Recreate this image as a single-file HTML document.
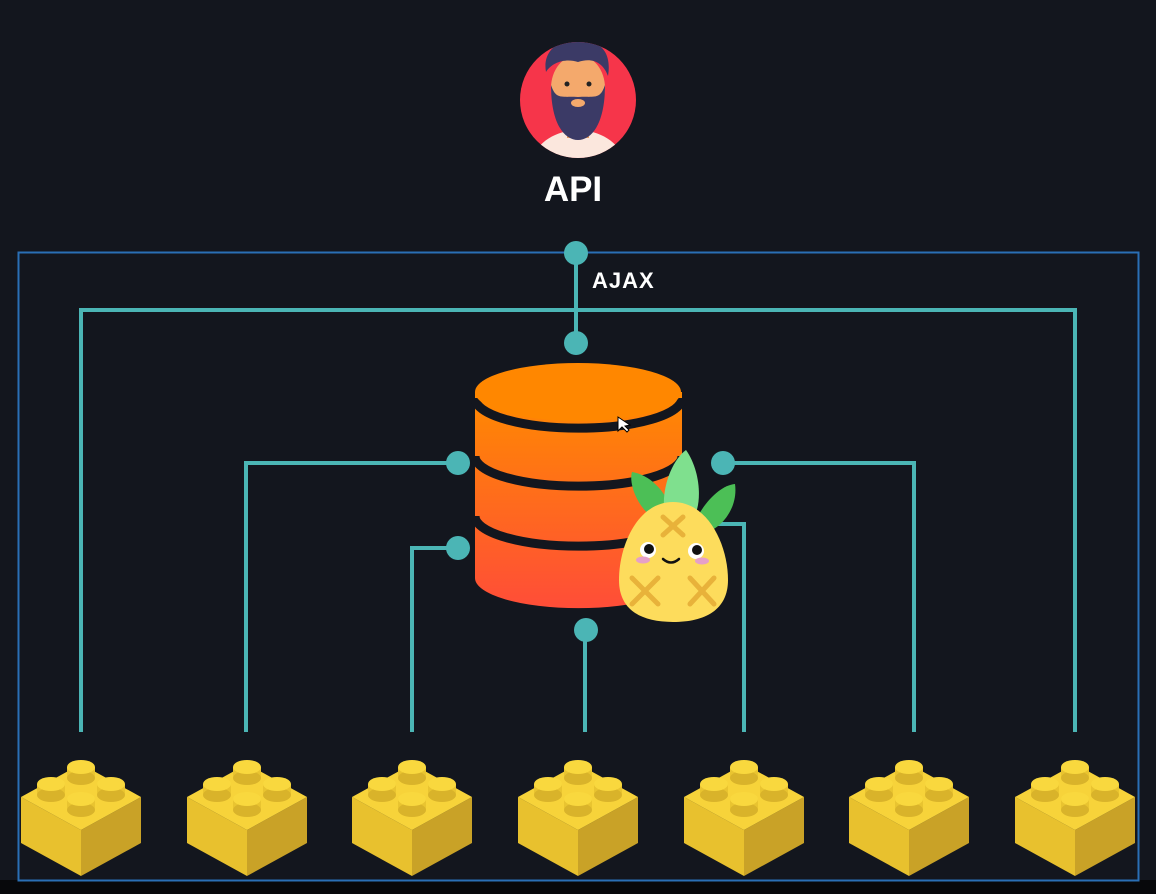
<!DOCTYPE html>
<html><head><meta charset="utf-8"><style>
html,body{margin:0;padding:0;background:#13161e;}
svg{display:block;}
</style></head><body>
<svg width="1156" height="894" viewBox="0 0 1156 894" xmlns="http://www.w3.org/2000/svg">
<defs>
<linearGradient id="db" x1="0" y1="0" x2="0" y2="1">
<stop offset="0" stop-color="#ff8a00"/><stop offset="1" stop-color="#ff4d38"/>
</linearGradient>
<clipPath id="av"><circle cx="578" cy="100" r="58"/></clipPath>
<g id="brick">
<polygon points="-60,797 0,830 0,876 -60,843" fill="#e8c12e"/>
<polygon points="60,797 0,830 0,876 60,843" fill="#c9a227"/>
<polygon points="-60,797 0,764 60,797 0,830" fill="#f7d33a"/>
<g fill="#e9c430">
<rect x="-14" y="767" width="28" height="11"/><ellipse cx="0" cy="778" rx="14" ry="7" fill="#d9b32a"/><ellipse cx="0" cy="767" rx="14" ry="7" fill="#f9d83e"/>
<rect x="-44" y="784" width="28" height="11"/><ellipse cx="-30" cy="795" rx="14" ry="7" fill="#d9b32a"/><ellipse cx="-30" cy="784" rx="14" ry="7" fill="#f9d83e"/>
<rect x="16" y="784" width="28" height="11"/><ellipse cx="30" cy="795" rx="14" ry="7" fill="#d9b32a"/><ellipse cx="30" cy="784" rx="14" ry="7" fill="#f9d83e"/>
<rect x="-14" y="799" width="28" height="11"/><ellipse cx="0" cy="810" rx="14" ry="7" fill="#d9b32a"/><ellipse cx="0" cy="799" rx="14" ry="7" fill="#f9d83e"/>
</g>
</g>
</defs>
<rect x="0" y="880" width="1156" height="14" fill="#07080b"/>
<rect x="18.5" y="252.5" width="1120" height="628" fill="none" stroke="#2a6fb5" stroke-width="2"/>

<g stroke="#4bb5b5" stroke-width="4" fill="none">
<polyline points="81,732 81,310 1075,310 1075,732"/>
<line x1="576" y1="253" x2="576" y2="343"/>
<polyline points="458,463 246,463 246,732"/>
<polyline points="458,548 412,548 412,732"/>
<line x1="585" y1="630" x2="585" y2="732"/>
<polyline points="723,463 914,463 914,732"/>
<polyline points="700,524 744,524 744,732"/>
</g>
<g fill="#4bb5b5">
<circle cx="576" cy="253" r="12"/><circle cx="576" cy="343" r="12"/>
<circle cx="458" cy="463" r="12"/><circle cx="458" cy="548" r="12"/>
<circle cx="586" cy="630" r="12"/><circle cx="723" cy="463" r="12"/>
</g>
<text x="592" y="288" font-family="Liberation Sans, sans-serif" font-weight="bold" font-size="22" letter-spacing="1" fill="#fff">AJAX</text>

<!-- database -->
<path d="M475,392 L475,578 A103,30 0 0 0 682,578 L682,392 Z" fill="url(#db)"/>
<path d="M475,398 A103,30 0 0 0 682,398" fill="none" stroke="#13161e" stroke-width="9"/>
<path d="M475,456 A103,30 0 0 0 682,456" fill="none" stroke="#13161e" stroke-width="9"/>
<path d="M475,516 A103,30 0 0 0 682,516" fill="none" stroke="#13161e" stroke-width="9"/>
<ellipse cx="578" cy="392" rx="103" ry="29" fill="#ff8700"/>

<!-- pineapple -->
<path d="M662,522 C640,515 628,485 632,472 C652,475 668,495 672,512 Z" fill="#4cbf56"/>
<path d="M695,522 C705,500 722,485 735,484 C738,505 725,525 708,532 Z" fill="#4cbf56"/>
<path d="M665,515 C660,490 672,460 686,450 C700,470 702,500 695,515 Z" fill="#7fe08e"/>
<path d="M673,502 C708,502 728,545 728,580 C728,610 705,622 673,622 C641,622 619,610 619,580 C619,545 638,502 673,502 Z" fill="#fddc5c"/>
<g stroke="#e8b23a" stroke-width="5" stroke-linecap="round">
<line x1="663" y1="517" x2="683" y2="535"/><line x1="683" y1="517" x2="663" y2="535"/>
<line x1="632" y1="578" x2="658" y2="604"/><line x1="658" y1="578" x2="632" y2="604"/>
<line x1="690" y1="578" x2="714" y2="604"/><line x1="714" y1="578" x2="690" y2="604"/>
</g>
<circle cx="648" cy="550" r="8" fill="#fff"/><circle cx="649" cy="549" r="5" fill="#111"/>
<circle cx="696" cy="551" r="8" fill="#fff"/><circle cx="697" cy="550" r="5" fill="#111"/>
<ellipse cx="643" cy="560" rx="7" ry="3.5" fill="#e6a0c8"/><ellipse cx="702" cy="561" rx="7" ry="3.5" fill="#e6a0c8"/>
<path d="M663,559 Q671,566 679,559" fill="none" stroke="#111" stroke-width="2.5" stroke-linecap="round"/>

<!-- cursor -->
<path d="M618,417 L618,431 L622,427 L627,432 L629,430 L625,426 L630,425 Z" fill="#fff" stroke="#000" stroke-width="1"/>

<!-- avatar -->
<circle cx="578" cy="100" r="58" fill="#f6354a"/>
<g clip-path="url(#av)">
<path d="M530,165 C535,140 560,130 578,130 C596,130 621,140 626,165 Z" fill="#fbe7dd"/>
<rect x="567" y="112" width="22" height="26" fill="#e89a5e"/>
<ellipse cx="578" cy="88" rx="27" ry="33" fill="#f4a96c"/>
<path d="M551,85 C551,125 565,140 578,140 C591,140 605,125 605,85 C600,100 595,96 578,97 C561,96 556,100 551,85 Z" fill="#3b3a66"/>
<ellipse cx="578" cy="103" rx="7" ry="4" fill="#f4a96c"/>
<path d="M546,72 C542,50 560,38 580,40 C600,40 612,52 608,76 C602,60 590,58 578,62 C566,58 552,62 546,72 Z" fill="#3b3a66"/>
<circle cx="567" cy="84" r="2.5" fill="#222"/><circle cx="589" cy="84" r="2.5" fill="#222"/>
</g>
<text x="573" y="201" text-anchor="middle" font-family="Liberation Sans, sans-serif" font-weight="bold" font-size="35" fill="#fff">API</text>

<use href="#brick" x="81"/><use href="#brick" x="247"/><use href="#brick" x="412"/>
<use href="#brick" x="578"/><use href="#brick" x="744"/><use href="#brick" x="909"/>
<use href="#brick" x="1075"/>
</svg>
</body></html>
